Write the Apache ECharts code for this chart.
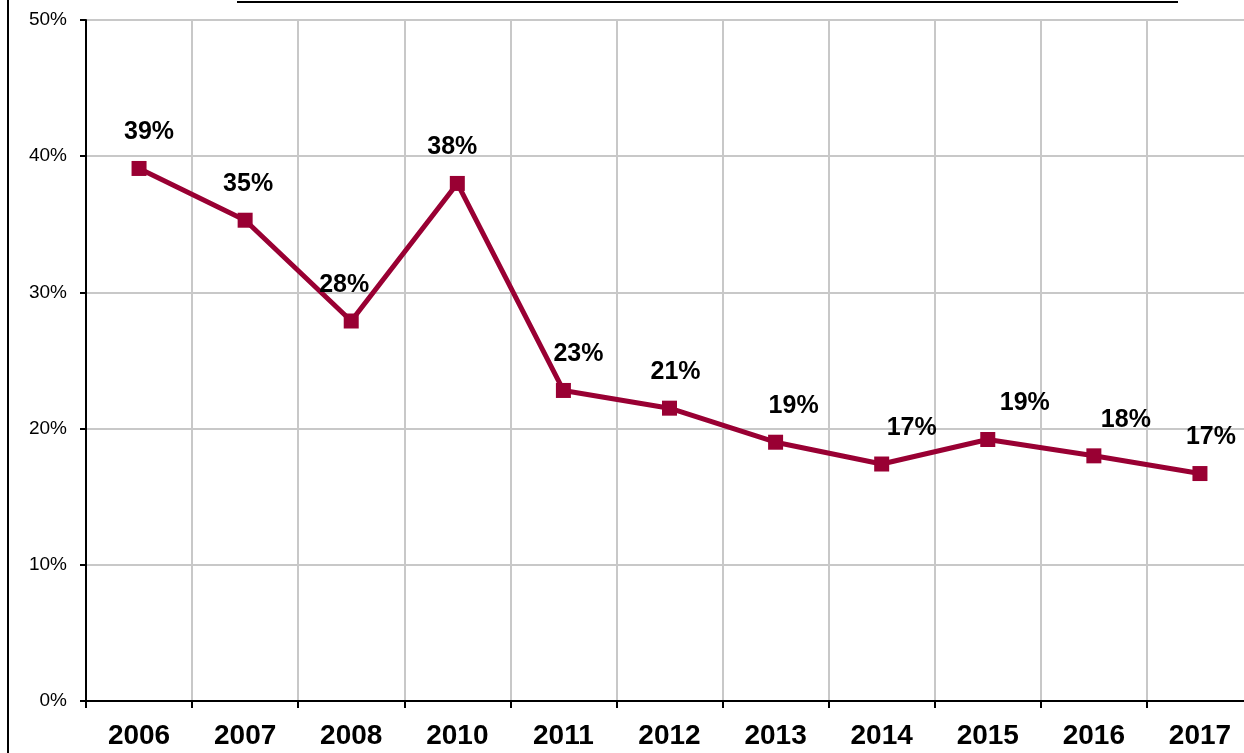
<!DOCTYPE html>
<html>
<head>
<meta charset="utf-8">
<script src="https://cdn.jsdelivr.net/npm/echarts@6/dist/echarts.min.js"></script>
<style>
  html, body { margin: 0; padding: 0; background: #fff; overflow: hidden; }
  /* the original plot runs a little past the right edge of the picture */
  #chart { width: 1262px; height: 753px; }
</style>
</head>
<body>
<div id="chart"></div>
<script>
// years on the x axis (2009 is missing in the source)
const years = ['2006', '2007', '2008', '2010', '2011', '2012', '2013', '2014', '2015', '2016', '2017'];
// share, in percent
const shares = [39.1, 35.3, 27.9, 38.0, 22.8, 21.5, 19.0, 17.4, 19.2, 18.0, 16.7];
// label text as printed
const labels = ['39%', '35%', '28%', '38%', '23%', '21%', '19%', '17%', '19%', '18%', '17%'];
// small horizontal nudges of labels, like the original
const labelNudge = [10, 3, -7, -5, 15, 6, 18, 30, 37, 32, 11];

const chart = echarts.init(document.getElementById('chart'));

chart.setOption({
  animation: false,
  backgroundColor: '#fff',
  grid: {
    left: 86, top: 20, right: 9, bottom: 52,
    show: true, borderColor: '#888', borderWidth: 2
  },
  xAxis: {
    type: 'category',
    data: years,
    boundaryGap: true,
    axisLine: { lineStyle: { color: '#000', width: 2 } },
    axisTick: { show: true, length: 7, lineStyle: { color: '#000', width: 2 } },
    axisLabel: {
      margin: 21, color: '#000', fontSize: 28, fontWeight: 'bold',
      fontFamily: 'Liberation Sans, Arial, sans-serif'
    },
    splitLine: { show: true, lineStyle: { color: '#c8c8c8', width: 2 } }
  },
  yAxis: {
    type: 'value',
    min: 0, max: 50, interval: 10,
    axisLine: { show: true, lineStyle: { color: '#000', width: 2 } },
    axisTick: { show: true, length: 6, lineStyle: { color: '#000', width: 2 } },
    axisLabel: {
      margin: 19, color: '#000', fontSize: 19,
      fontFamily: 'Liberation Sans, Arial, sans-serif',
      formatter: v => v + '%'
    },
    splitLine: { show: true, lineStyle: { color: '#c8c8c8', width: 2 } }
  },
  series: [{
    type: 'line',
    data: shares.map((v, i) => ({
      value: v,
      label: { offset: [labelNudge[i], 0] }
    })),
    symbol: 'rect',
    symbolSize: 15,
    lineStyle: { color: '#990033', width: 5 },
    itemStyle: { color: '#990033' },
    label: {
      show: true,
      position: 'top',
      distance: 16,
      color: '#000',
      fontSize: 25,
      fontWeight: 'bold',
      fontFamily: 'Liberation Sans, Arial, sans-serif',
      formatter: p => labels[p.dataIndex]
    }
  }],
  graphic: [
    {
      type: 'rect',
      shape: { x: 8, y: -10, width: 1400, height: 900 },
      style: { fill: 'none', stroke: '#000', lineWidth: 2 },
      silent: true
    },
    {
      // underline of the title, cut off at the top edge
      type: 'line',
      shape: { x1: 237, y1: 2, x2: 1178, y2: 2 },
      style: { stroke: '#000', lineWidth: 2 },
      silent: true
    }
  ]
});
</script>
</body>
</html>
